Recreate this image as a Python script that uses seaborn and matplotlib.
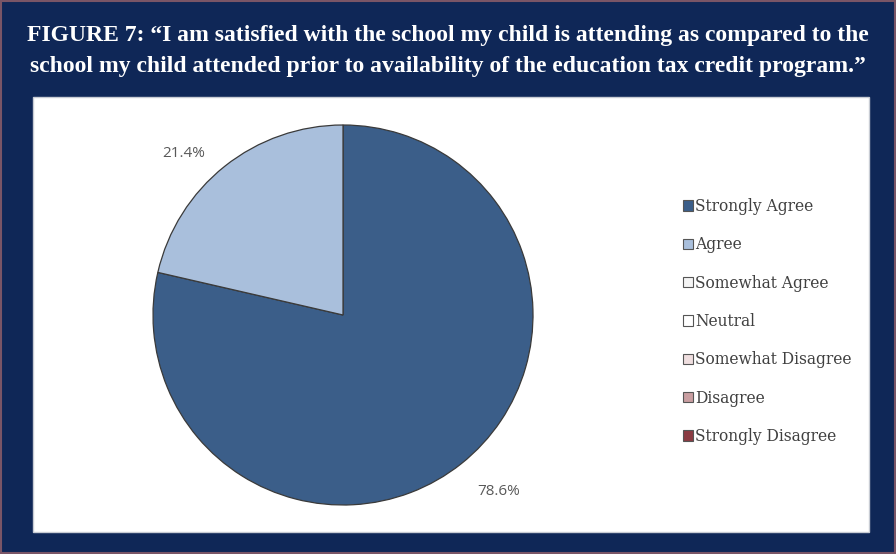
import matplotlib
matplotlib.use("Agg")
import matplotlib.pyplot as plt
from matplotlib.patches import Rectangle, Patch
import seaborn as sns

# Survey responses
categories = ["Strongly Agree", "Agree", "Somewhat Agree", "Neutral",
              "Somewhat Disagree", "Disagree", "Strongly Disagree"]
shares = [78.6, 21.4, 0.0, 0.0, 0.0, 0.0, 0.0]
palette = ["#3b5e89", "#a9bfdc", "#f4f4f4", "#ffffff",
           "#efdedf", "#c99ea1", "#8a3b42"]

title = ("FIGURE 7: \u201cI am satisfied with the school my child is attending as compared to the\n"
         "school my child attended prior to availability of the education tax credit program.\u201d")

sns.set_theme(style="white")
navy = "#0f2757"

W, H = 896, 554
fig = plt.figure(figsize=(W / 100, H / 100), dpi=100, facecolor=navy)

# thin outer border
fig.patches.append(Rectangle((0.001, 0.002), 0.998, 0.996, transform=fig.transFigure,
                             facecolor="none", edgecolor="#7a5566", linewidth=1.5,
                             zorder=-2))
# white panel
px0, px1, py0, py1 = 33, 869, 97, 532
fig.patches.append(Rectangle((px0 / W, 1 - py1 / H), (px1 - px0) / W, (py1 - py0) / H,
                             transform=fig.transFigure, facecolor="white",
                             edgecolor="#c8ccd4", linewidth=1.0, zorder=-1))

fig.text(0.5, 1 - 51 / H, title, ha="center", va="center", color="white",
         fontsize=17, fontweight="bold", family="Liberation Serif", linespacing=1.6)

# pie axes
cx, cy, r = 343, 315, 190
ax = fig.add_axes([(cx - r) / W, 1 - (cy + r) / H, 2 * r / W, 2 * r / H])
ax.set_facecolor("none")

nz = [(v, c) for v, c in zip(shares, palette) if v > 0]
wedges, texts, autotexts = ax.pie(
    [v for v, _ in nz], colors=[c for _, c in nz], startangle=90, counterclock=False,
    radius=1.0, autopct="%.1f%%", pctdistance=1.22,
    wedgeprops=dict(edgecolor="#3a3a3a", linewidth=0.9),
    textprops=dict(color="#595959", fontsize=11, family="Open Sans"))
# percentage labels placed just outside the rim
label_pos = [(0.82, -0.93), (-0.84, 0.85)]
for t, (x, y) in zip(autotexts, label_pos):
    t.set_position((x, y))
ax.set_xlim(-1, 1)
ax.set_ylim(-1, 1)
ax.set_aspect("equal")
ax.axis("off")

handles = [Patch(facecolor=c, edgecolor="#555555", linewidth=0.8) for c in palette]
leg = fig.legend(handles, categories, loc="upper left",
                 bbox_to_anchor=(669 / W, 1 - 184 / H), frameon=False,
                 prop=dict(family="DejaVu Serif", size=11.2),
                 labelcolor="#404040", handlelength=0.65, handleheight=0.65,
                 handletextpad=0.15, labelspacing=1.37)

fig.savefig("out.png", dpi=100, facecolor=navy)
